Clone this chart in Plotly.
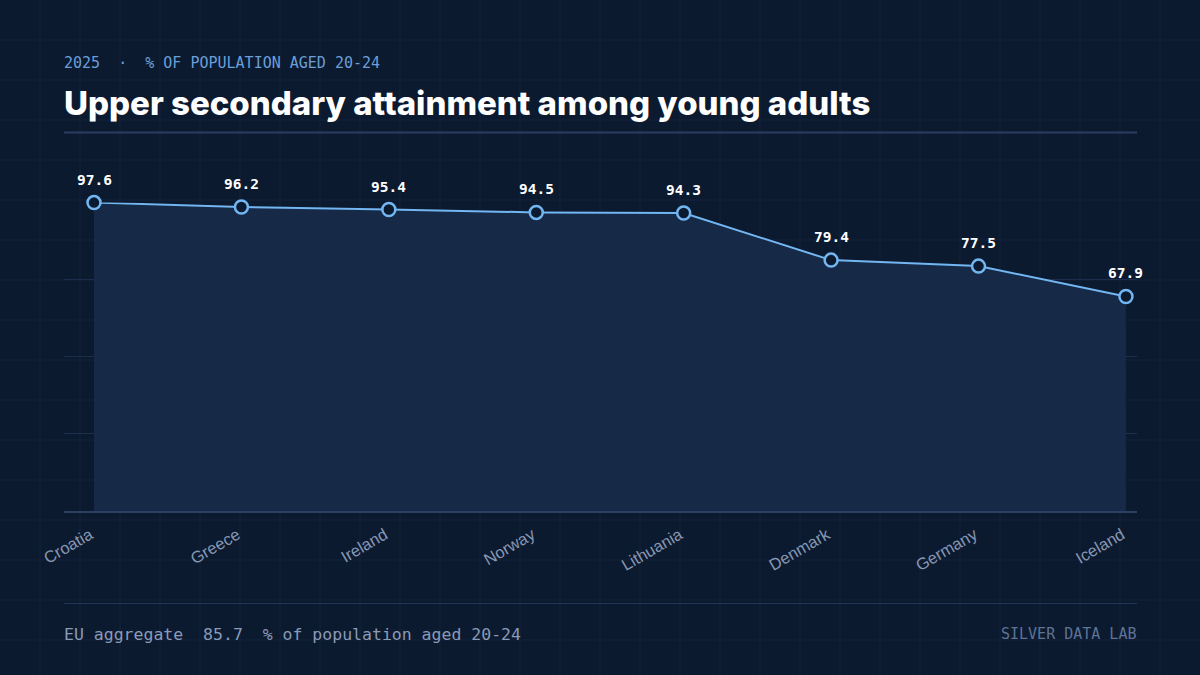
import plotly.graph_objects as go

# ---- data ----
countries = ["Croatia", "Greece", "Ireland", "Norway", "Lithuania", "Denmark", "Germany", "Iceland"]
values = [97.6, 96.2, 95.4, 94.5, 94.3, 79.4, 77.5, 67.9]
eu_aggregate = 85.7
year = "2025"
unit_label = "% of population aged 20-24"
title_text = "Upper secondary attainment among young adults"
source_text = "SILVER DATA LAB"

W, H = 1200, 675
BG = "#0c1a30"
FILL = "#162a48"
LINE = "#72b6f2"
GRID = "#1d2e4c"
AXIS = "#2b4063"
MONO = "DejaVu Sans Mono, Liberation Mono, monospace"
SANS = "Liberation Sans, Arial, sans-serif"


def px_x(x):
    return x / W


def px_y(y):
    return (H - y) / H


fig = go.Figure()

fig.add_trace(go.Scatter(
    x=countries, y=values,
    mode="lines+markers",
    line=dict(color=LINE, width=2),
    fill="tozeroy", fillcolor=FILL,
    marker=dict(size=13, color=BG, line=dict(color=LINE, width=2.5)),
    cliponaxis=False,
    hoverinfo="x+y",
))

# data labels
for c, v in zip(countries, values):
    fig.add_annotation(x=c, y=v, xref="x", yref="y", text=f"<b>{v:.1f}</b>",
                       showarrow=False, yshift=23,
                       font=dict(family=MONO, size=14.5, color="#ffffff"))

# background grid (40px)
shapes = []
for gx in range(40, W, 40):
    shapes.append(dict(type="line", xref="paper", yref="paper",
                       x0=px_x(gx), x1=px_x(gx), y0=0, y1=1,
                       line=dict(color="#12213b", width=1), layer="below"))
for gy in range(40, H, 40):
    shapes.append(dict(type="line", xref="paper", yref="paper",
                       x0=0, x1=1, y0=px_y(gy), y1=px_y(gy),
                       line=dict(color="#12213b", width=1), layer="below"))
# separator under title
shapes.append(dict(type="line", xref="paper", yref="paper",
                   x0=px_x(64), x1=px_x(1137), y0=px_y(132.5), y1=px_y(132.5),
                   line=dict(color="#2a3e62", width=2), layer="below"))
# footer separator
shapes.append(dict(type="line", xref="paper", yref="paper",
                   x0=px_x(64), x1=px_x(1137), y0=px_y(603.5), y1=px_y(603.5),
                   line=dict(color="#213357", width=1), layer="below"))

annotations = [
    dict(xref="paper", yref="paper", x=px_x(62), y=px_y(63), xanchor="left", yanchor="middle",
         text=f"{year}\u00a0\u00a0·\u00a0\u00a0{unit_label.upper()}", showarrow=False,
         font=dict(family=MONO, size=15, color="#6a9fd8")),
    dict(xref="paper", yref="paper", x=px_x(62), y=px_y(103), xanchor="left", yanchor="middle",
         text=title_text, showarrow=False,
         font=dict(family="Inter, sans-serif", size=33, color="#ffffff", weight=800)),
    dict(xref="paper", yref="paper", x=px_x(62), y=px_y(634), xanchor="left", yanchor="middle",
         text=f"EU aggregate\u00a0\u00a0{eu_aggregate:.1f}\u00a0\u00a0{unit_label}", showarrow=False,
         font=dict(family=MONO, size=16.5, color="#8a9bb8")),
    dict(xref="paper", yref="paper", x=px_x(1138), y=px_y(634), xanchor="right", yanchor="middle",
         text=source_text, showarrow=False,
         font=dict(family=MONO, size=15, color="#5f7394")),
]

ymax = max(values)
n = len(countries)
fig.update_layout(
    width=W, height=H,
    margin=dict(l=0, r=0, t=0, b=0, autoexpand=False),
    paper_bgcolor=BG, plot_bgcolor="rgba(0,0,0,0)",
    showlegend=False,
    shapes=shapes,
    xaxis=dict(domain=[px_x(64), px_x(1137)], range=[-0.2035, n - 1 + 0.075],
               automargin=False,
               showgrid=False, zeroline=False, showline=True, linecolor=AXIS, linewidth=2,
               tickangle=-30, ticks="outside", ticklen=6, tickcolor="rgba(0,0,0,0)",
               ticklabelshift=-4,
               tickfont=dict(family=SANS, size=16.5, color="#8797b2")),
    yaxis=dict(domain=[px_y(511), px_y(202.6)], range=[0, ymax], tick0=0, dtick=ymax / 4,
               automargin=False,
               showgrid=True, gridcolor=GRID, gridwidth=1, zeroline=False,
               showticklabels=False, ticks=""),
    annotations=list(fig.layout.annotations) + annotations,
)

fig.write_html("out.html")
